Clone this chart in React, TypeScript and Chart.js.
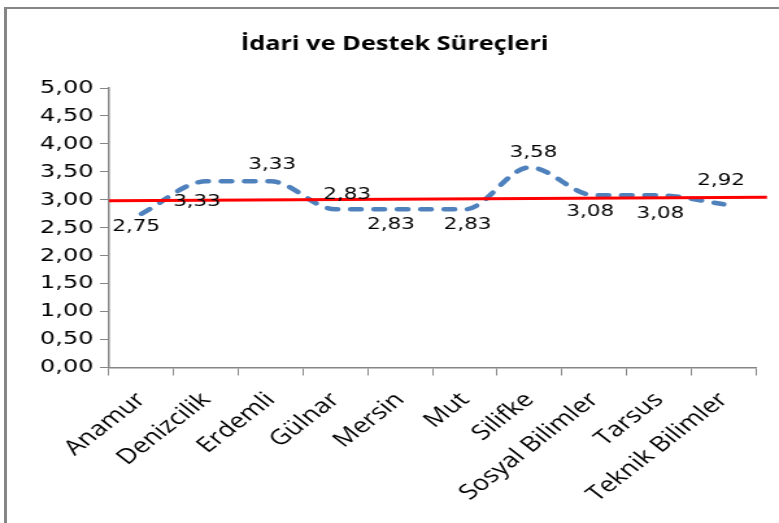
import React, { useEffect, useRef } from "react";
import { Chart, registerables } from "chart.js";

Chart.register(...registerables);

const categories = [
  "Anamur",
  "Denizcilik",
  "Erdemli",
  "Gülnar",
  "Mersin",
  "Mut",
  "Silifke",
  "Sosyal Bilimler",
  "Tarsus",
  "Teknik Bilimler",
];
const scores = [2.75, 3.33, 3.33, 2.83, 2.83, 2.83, 3.58, 3.08, 3.08, 2.92];
const refLineX = [0, 10.17];
const refLineY = [2.985, 3.045];
const yTickMin = 0;
const yTickMax = 5;
const yTickStep = 0.5;
const titleText = "İdari ve Destek Süreçleri";

// label offsets (canvas px) — styling only
const labelOffsets: [number, number][] = [
  [-4, 13],
  [-7, 20],
  [1, -17],
  [9, -15],
  [-7, 15],
  [2, 15],
  [3, -15],
  [-3, 16],
  [1, 18],
  [-2, -24],
];

const STRETCH = 779 / 600;

const fmt = (v: number) => v.toFixed(2).replace(".", ",");

const dataLabelPlugin = {
  id: "dataLabels",
  afterDatasetsDraw(chart: any) {
    const meta = chart.getDatasetMeta(0);
    const ctx = chart.ctx;
    ctx.save();
    ctx.font = "16.5px 'DejaVu Sans'";
    ctx.fillStyle = "#000";
    ctx.textAlign = "center";
    ctx.textBaseline = "middle";
    meta.data.forEach((pt: any, i: number) => {
      const [dx, dy] = labelOffsets[i] || [0, 0];
      ctx.fillText(fmt(scores[i]), pt.x + dx, pt.y + dy);
    });
    ctx.restore();
  },
};

export default function App() {
  const ref = useRef<HTMLCanvasElement | null>(null);

  useEffect(() => {
    if (!ref.current) return;
    const chart = new Chart(ref.current, {
      type: "line",
      data: {
        labels: categories,
        datasets: [
          {
            data: scores,
            xAxisID: "x",
            yAxisID: "y",
            borderColor: "#4F81BD",
            borderWidth: 4.5,
            borderDash: [8, 10],
            borderCapStyle: "round",
            pointRadius: 0,
            cubicInterpolationMode: "monotone",
            fill: false,
            order: 1,
          },
          {
            data: refLineX.map((x, i) => ({ x, y: refLineY[i] })),
            xAxisID: "x2",
            yAxisID: "y",
            borderColor: "#FF0000",
            borderWidth: 3,
            pointRadius: 0,
            tension: 0,
            fill: false,
            clip: false,
            order: 0,
          } as any,
        ],
      },
      options: {
        animation: false,
        responsive: true,
        maintainAspectRatio: false,
        layout: { padding: { left: 25.7, right: 17.7, top: 0, bottom: 0 } },
        plugins: {
          legend: { display: false },
          tooltip: { enabled: false },
          title: {
            display: true,
            text: titleText,
            color: "#000",
            font: { family: "'Open Sans'", size: 19.5, weight: "bold", lineHeight: 1.2 },
            padding: { top: 32.8, bottom: 31.8 },
          },
        },
        scales: {
          x: {
            type: "category",
            offset: true,
            grid: {
              offset: true,
              drawOnChartArea: false,
              drawTicks: true,
              tickLength: 8,
              color: "#868686",
            },
            border: { display: true, color: "#868686", width: 1.5 },
            ticks: {
              autoSkip: false,
              minRotation: 45,
              maxRotation: 45,
              color: "#000",
              padding: 12,
              font: { family: "'Open Sans'", size: 21 },
            },
            afterFit: (s: any) => {
              s.height = 155.5;
            },
          },
          x2: {
            type: "linear",
            display: false,
            min: 0,
            max: 10,
          },
          y: {
            min: yTickMin,
            max: yTickMax,
            grid: {
              drawOnChartArea: false,
              drawTicks: true,
              tickLength: 7,
              color: "#868686",
            },
            border: { display: true, color: "#868686", width: 1.5 },
            ticks: {
              stepSize: yTickStep,
              color: "#000",
              padding: 5,
              font: { family: "'DejaVu Sans'", size: 18.5 },
              callback: (v: any) => fmt(Number(v)),
            },
            afterFit: (s: any) => {
              s.width = 58.3;
            },
          },
        },
      },
      plugins: [dataLabelPlugin],
    });
    return () => chart.destroy();
  }, []);

  return (
    <div
      style={{
        position: "fixed",
        left: 0,
        top: 0,
        width: 779,
        height: 523,
        overflow: "hidden",
        background: "#fff",
      }}
    >
      <div
        style={{
          position: "absolute",
          left: 0,
          top: 0,
          width: 600,
          height: 523,
          transform: `scaleX(${STRETCH})`,
          transformOrigin: "0 0",
        }}
      >
        <canvas ref={ref} />
      </div>
      <div
        style={{
          position: "absolute",
          left: 4,
          top: 7,
          width: 900,
          height: 700,
          borderLeft: "3px solid #868686",
          borderTop: "2px solid #868686",
          pointerEvents: "none",
        }}
      />
    </div>
  );
}
